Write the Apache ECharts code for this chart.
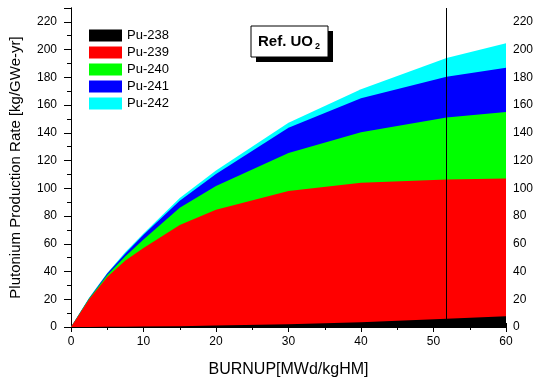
<!DOCTYPE html>
<html>
<head>
<meta charset="utf-8">
<script src="https://cdn.jsdelivr.net/npm/echarts@6/dist/echarts.min.js"></script>
<style>
  html, body { margin: 0; padding: 0; background: #fff; }
  #chart { width: 539px; height: 383px; }
</style>
</head>
<body>
<div id="chart"></div>
<script>
// burnup points (MWd/kgHM)
const burnup = [0, 2.5, 5, 7.5, 10, 15, 20, 30, 40, 51.8, 60]
// production rate of each isotope, stacked (kg/GWe-yr)
const pu238 = [0, 0, 0.1, 0.2, 0.3, 0.6, 1.0, 2.0, 3.5, 6.0, 7.8]
const pu239 = [0, 20, 35.9, 47.8, 56.7, 72.9, 83.5, 96.0, 100.5, 100.4, 99.2]
const pu240 = [0, 0.5, 1.5, 3.0, 6.0, 12.5, 17.2, 27.5, 36.5, 44.6, 48.0]
const pu241 = [0, 0.3, 1.0, 2.0, 3.5, 5.0, 8.7, 18.2, 24.5, 29.5, 32.0]
const pu242 = [0, 0.2, 0.5, 1.0, 1.0, 2.0, 2.4, 3.6, 6.5, 13.5, 17.6]
const names = ["Pu-238", "Pu-239", "Pu-240", "Pu-241", "Pu-242"]
const colors = ["#000000", "#ff0000", "#00ff00", "#0000ff", "#00ffff"]
const refLine = 51.8

const font = 'Arial, "Liberation Sans", sans-serif'
const chart = echarts.init(document.getElementById("chart"))

// running totals, each layer filled down to zero; lower layers drawn on top
const layers = [pu238, pu239, pu240, pu241, pu242]
const running = burnup.map(() => 0)
const series = layers.map((vals, i) => {
  const tops = vals.map((v, j) => (running[j] += v))
  return {
    name: names[i],
    type: "line",
    symbol: "none",
    color: colors[i],
    z: 10 - i,
    lineStyle: { width: 0 },
    areaStyle: { color: colors[i], opacity: 1 },
    data: burnup.map((x, j) => [x, +tops[j].toFixed(2)]),
    animation: false,
  }
})

// vertical reference line
series[0].markLine = {
  symbol: "none",
  silent: true,
  z: 30,
  label: { show: false },
  lineStyle: { color: "#000", width: 1, type: "solid" },
  data: [{ xAxis: refLine }],
  animation: false,
}

const axisBase = {
  type: "value",
  axisLine: { show: true, lineStyle: { color: "#000", width: 1 } },
  splitLine: { show: false },
  minorSplitLine: { show: false },
}

chart.setOption({
  textStyle: { fontFamily: font },
  grid: { left: 71, right: 33, top: 8, bottom: 53 },
  legend: {
    orient: "vertical",
    left: 89,
    top: 29,
    padding: 0,
    itemWidth: 33,
    itemHeight: 12,
    itemGap: 4,
    icon: "rect",
    data: names,
    textStyle: { fontSize: 13, color: "#000", fontFamily: font },
  },
  xAxis: [
    {
      ...axisBase,
      position: "bottom",
      min: 0,
      max: 60,
      interval: 10,
      name: "BURNUP[MWd/kgHM]",
      nameLocation: "middle",
      nameGap: 35,
      nameTextStyle: { fontSize: 16, color: "#000", fontFamily: font },
      axisTick: { show: true, length: 5, lineStyle: { color: "#000" } },
      minorTick: { show: true, splitNumber: 2, length: 3, lineStyle: { color: "#000" } },
      axisLabel: { fontSize: 12, color: "#000", margin: 9 },
    },
    {
      ...axisBase,
      position: "top",
      min: 0,
      max: 60,
      interval: 10,
      axisTick: { show: true, length: 4, lineStyle: { color: "#000" } },
      minorTick: { show: true, splitNumber: 2, length: 3, lineStyle: { color: "#000" } },
      axisLabel: { show: false },
    },
  ],
  yAxis: [
    {
      ...axisBase,
      position: "left",
      min: 0,
      max: 230,
      interval: 20,
      name: "Plutonium Production Rate [kg/GWe-yr]",
      nameLocation: "middle",
      nameGap: 48,
      nameTextStyle: { fontSize: 15, color: "#000", fontFamily: font },
      axisTick: { show: true, length: 7, lineStyle: { color: "#000" } },
      minorTick: { show: true, splitNumber: 2, length: 4, lineStyle: { color: "#000" } },
      axisLabel: { fontSize: 12, color: "#000", margin: 14, showMaxLabel: false },
    },
    {
      ...axisBase,
      position: "right",
      min: 0,
      max: 230,
      interval: 20,
      axisTick: { show: true, inside: true, length: 6, lineStyle: { color: "#000" } },
      minorTick: { show: true, splitNumber: 2, length: 4, lineStyle: { color: "#000" } },
      axisLabel: { fontSize: 12, color: "#000", margin: 7, showMaxLabel: false },
    },
  ],
  graphic: [
    { type: "rect", z: 100, shape: { x: 256, y: 31, width: 77, height: 31 }, style: { fill: "#000" } },
    {
      type: "rect",
      z: 101,
      shape: { x: 251, y: 26, width: 77, height: 31 },
      style: { fill: "#fff", stroke: "#000", lineWidth: 1 },
    },
    {
      type: "text",
      z: 102,
      x: 289,
      y: 42,
      style: {
        text: "{a|Ref. UO}{b|2}",
        align: "center",
        verticalAlign: "middle",
        rich: {
          a: { fontSize: 15, fontWeight: "bold", fontFamily: font, lineHeight: 18, fill: "#000" },
          b: {
            fontSize: 9,
            fontWeight: "bold",
            fontFamily: font,
            lineHeight: 9,
            verticalAlign: "bottom",
            padding: [0, 0, 0, 2],
            fill: "#000",
          },
        },
      },
    },
  ],
  series,
})
</script>
</body>
</html>
